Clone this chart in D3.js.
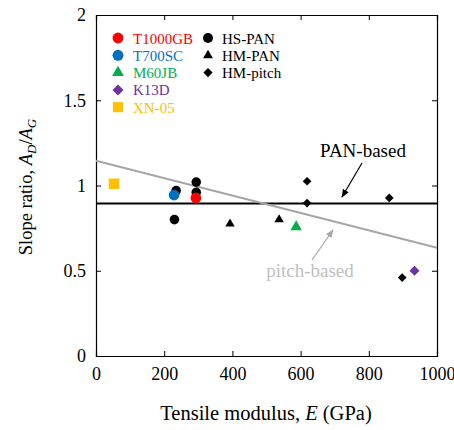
<!DOCTYPE html>
<html><head><meta charset="utf-8">
<script src="https://cdn.jsdelivr.net/npm/d3@7"></script>
<style>body{margin:0;background:#fff}svg text{font-family:"Liberation Serif","Times New Roman",serif}</style>
</head><body><svg id="c" width="454" height="430"></svg>
<script>
const xTicks=[0,200,400,600,800,1000];
const yTicks=[0,0.5,1,1.5,2];
const yTickLabels=["0","0.5","1","1.5","2"];
// black series
const hsPan=[[230,0.80],[235,0.97],[294,1.02],[294,0.96]];
const hmPan=[[393,0.775],[537,0.80]];
const hmPitch=[[619,1.025],[619,0.897],[860,0.927],[898,0.46]];
// colored named fibers
const named=[
 {name:"T1000GB",E:293,r:0.927,shape:"circle",color:"#FF0000"},
 {name:"T700SC",E:229,r:0.944,shape:"circle",color:"#0070C0"},
 {name:"M60JB",E:587,r:0.757,shape:"triangle",color:"#00B050"},
 {name:"K13D",E:934,r:0.50,shape:"diamond",color:"#7030A0"},
 {name:"XN-05",E:53,r:1.01,shape:"square",color:"#FFC000"}
];
const blackLegend=[{name:"HS-PAN",shape:"circle"},{name:"HM-PAN",shape:"triangle"},{name:"HM-pitch",shape:"diamond"}];
const panLine=0.895;
const pitchLine=[[0,1.145],[1000,0.635]];

const svg=d3.select("#c");
const L=96,R=437,T=15,B=356;
const x=d3.scaleLinear().domain([0,1000]).range([L,R]);
const y=d3.scaleLinear().domain([0,2]).range([B,T]);
const sym={circle:d3.symbolCircle,triangle:d3.symbolTriangle,diamond:d3.symbolSquare,square:d3.symbolSquare};
const sz={circle:72,triangle:38,diamond:38,square:85};
function mark(g,shape,cx,cy,fill,scale=1){
  g.append("path").attr("d",d3.symbol().type(sym[shape]).size(sz[shape]*scale)())
   .attr("transform",`translate(${cx},${cy})`+(shape==="diamond"?" rotate(45)":"")).attr("fill",fill);
}
const FF="Liberation Serif";
// axes
const ax=svg.append("g").attr("transform",`translate(0,${B})`).call(d3.axisBottom(x).tickValues(xTicks).tickSize(-5).tickPadding(11).tickFormat(d3.format("d")));
const ay=svg.append("g").attr("transform",`translate(${L},0)`).call(d3.axisLeft(y).tickValues(yTicks).tickSize(-5).tickPadding(10).tickFormat((d,i)=>yTickLabels[i]));
const at=svg.append("g").attr("transform",`translate(0,${T})`).call(d3.axisTop(x).tickValues(xTicks).tickSize(-5).tickFormat(""));
const ar=svg.append("g").attr("transform",`translate(${R},0)`).call(d3.axisRight(y).tickValues(yTicks).tickSize(-5).tickFormat(""));
[ax,ay,at,ar].forEach(a=>{a.attr("font-family",FF);a.select(".domain").attr("stroke","#000").attr("stroke-width",1.2);a.selectAll(".tick line").attr("stroke","#000");a.selectAll("text").attr("font-size",18).attr("fill","#000");});
// lines
svg.append("line").attr("x1",x(0)).attr("x2",x(1000)).attr("y1",y(panLine)).attr("y2",y(panLine)).attr("stroke","#000").attr("stroke-width",2);
svg.append("line").attr("x1",x(pitchLine[0][0])).attr("x2",x(pitchLine[1][0])).attr("y1",y(pitchLine[0][1])).attr("y2",y(pitchLine[1][1])).attr("stroke","#A6A6A6").attr("stroke-width",2);
// points
const pg=svg.append("g");
hsPan.forEach(d=>mark(pg,"circle",x(d[0]),y(d[1]),"#000"));
hmPan.forEach(d=>mark(pg,"triangle",x(d[0]),y(d[1]),"#000"));
hmPitch.forEach(d=>mark(pg,"diamond",x(d[0]),y(d[1]),"#000"));
named.forEach(d=>mark(pg,d.shape,x(d.E),y(d.r),d.color,d.shape==="circle"?1.25:(d.shape==="triangle"?1.5:1.3)));
// legend
const lg=svg.append("g").attr("font-family",FF);
named.forEach((d,i)=>{const yy=38+i*17.3;mark(lg,d.shape,118,yy,d.color,d.shape==="square"?1.2:(d.shape==="circle"?1.3:1.6));
 lg.append("text").attr("x",133).attr("y",yy+5.5).attr("font-size",15).attr("fill",d.color).text(d.name);});
blackLegend.forEach((d,i)=>{const yy=38+i*17.3;mark(lg,d.shape,208,yy,"#000",1.1);
 lg.append("text").attr("x",222).attr("y",yy+5.5).attr("font-size",15).attr("fill","#000").text(d.name);});
// annotations
svg.append("defs").html('<marker id="ab" viewBox="0 0 10 10" refX="9" refY="5" markerWidth="7" markerHeight="7" orient="auto"><path d="M0,1L10,5L0,9z" fill="#000"/></marker><marker id="ag" viewBox="0 0 10 10" refX="9" refY="5" markerWidth="7" markerHeight="7" orient="auto"><path d="M0,1L10,5L0,9z" fill="#A6A6A6"/></marker>');
svg.append("text").attr("x",363).attr("y",157).attr("text-anchor","middle").attr("font-size",19).attr("font-family",FF).text("PAN-based");
svg.append("line").attr("x1",362).attr("y1",163).attr("x2",342).attr("y2",197).attr("stroke","#000").attr("stroke-width",1.2).attr("marker-end","url(#ab)");
svg.append("text").attr("x",310).attr("y",277).attr("text-anchor","middle").attr("font-size",19).attr("font-family",FF).attr("fill","#BFBFBF").text("pitch-based");
svg.append("line").attr("x1",312).attr("y1",260).attr("x2",333).attr("y2",230).attr("stroke","#A6A6A6").attr("stroke-width",1.2).attr("marker-end","url(#ag)");
// titles
const xt=svg.append("text").attr("x",266).attr("y",420).attr("text-anchor","middle").attr("font-size",20.5).attr("font-family",FF);
xt.append("tspan").text("Tensile modulus, ");xt.append("tspan").attr("font-style","italic").text("E");xt.append("tspan").text(" (GPa)");
const yt=svg.append("text").attr("transform","translate(32,187) rotate(-90)").attr("text-anchor","middle").attr("font-size",18.5).attr("font-family",FF);
yt.append("tspan").text("Slope ratio, ");yt.append("tspan").attr("font-style","italic").text("A");
yt.append("tspan").attr("font-style","italic").attr("font-size",13).attr("dy",4).text("D");
yt.append("tspan").attr("dy",-4).text("/");
yt.append("tspan").attr("font-style","italic").text("A");
yt.append("tspan").attr("font-style","italic").attr("font-size",13).attr("dy",4).text("G");
</script></body></html>
